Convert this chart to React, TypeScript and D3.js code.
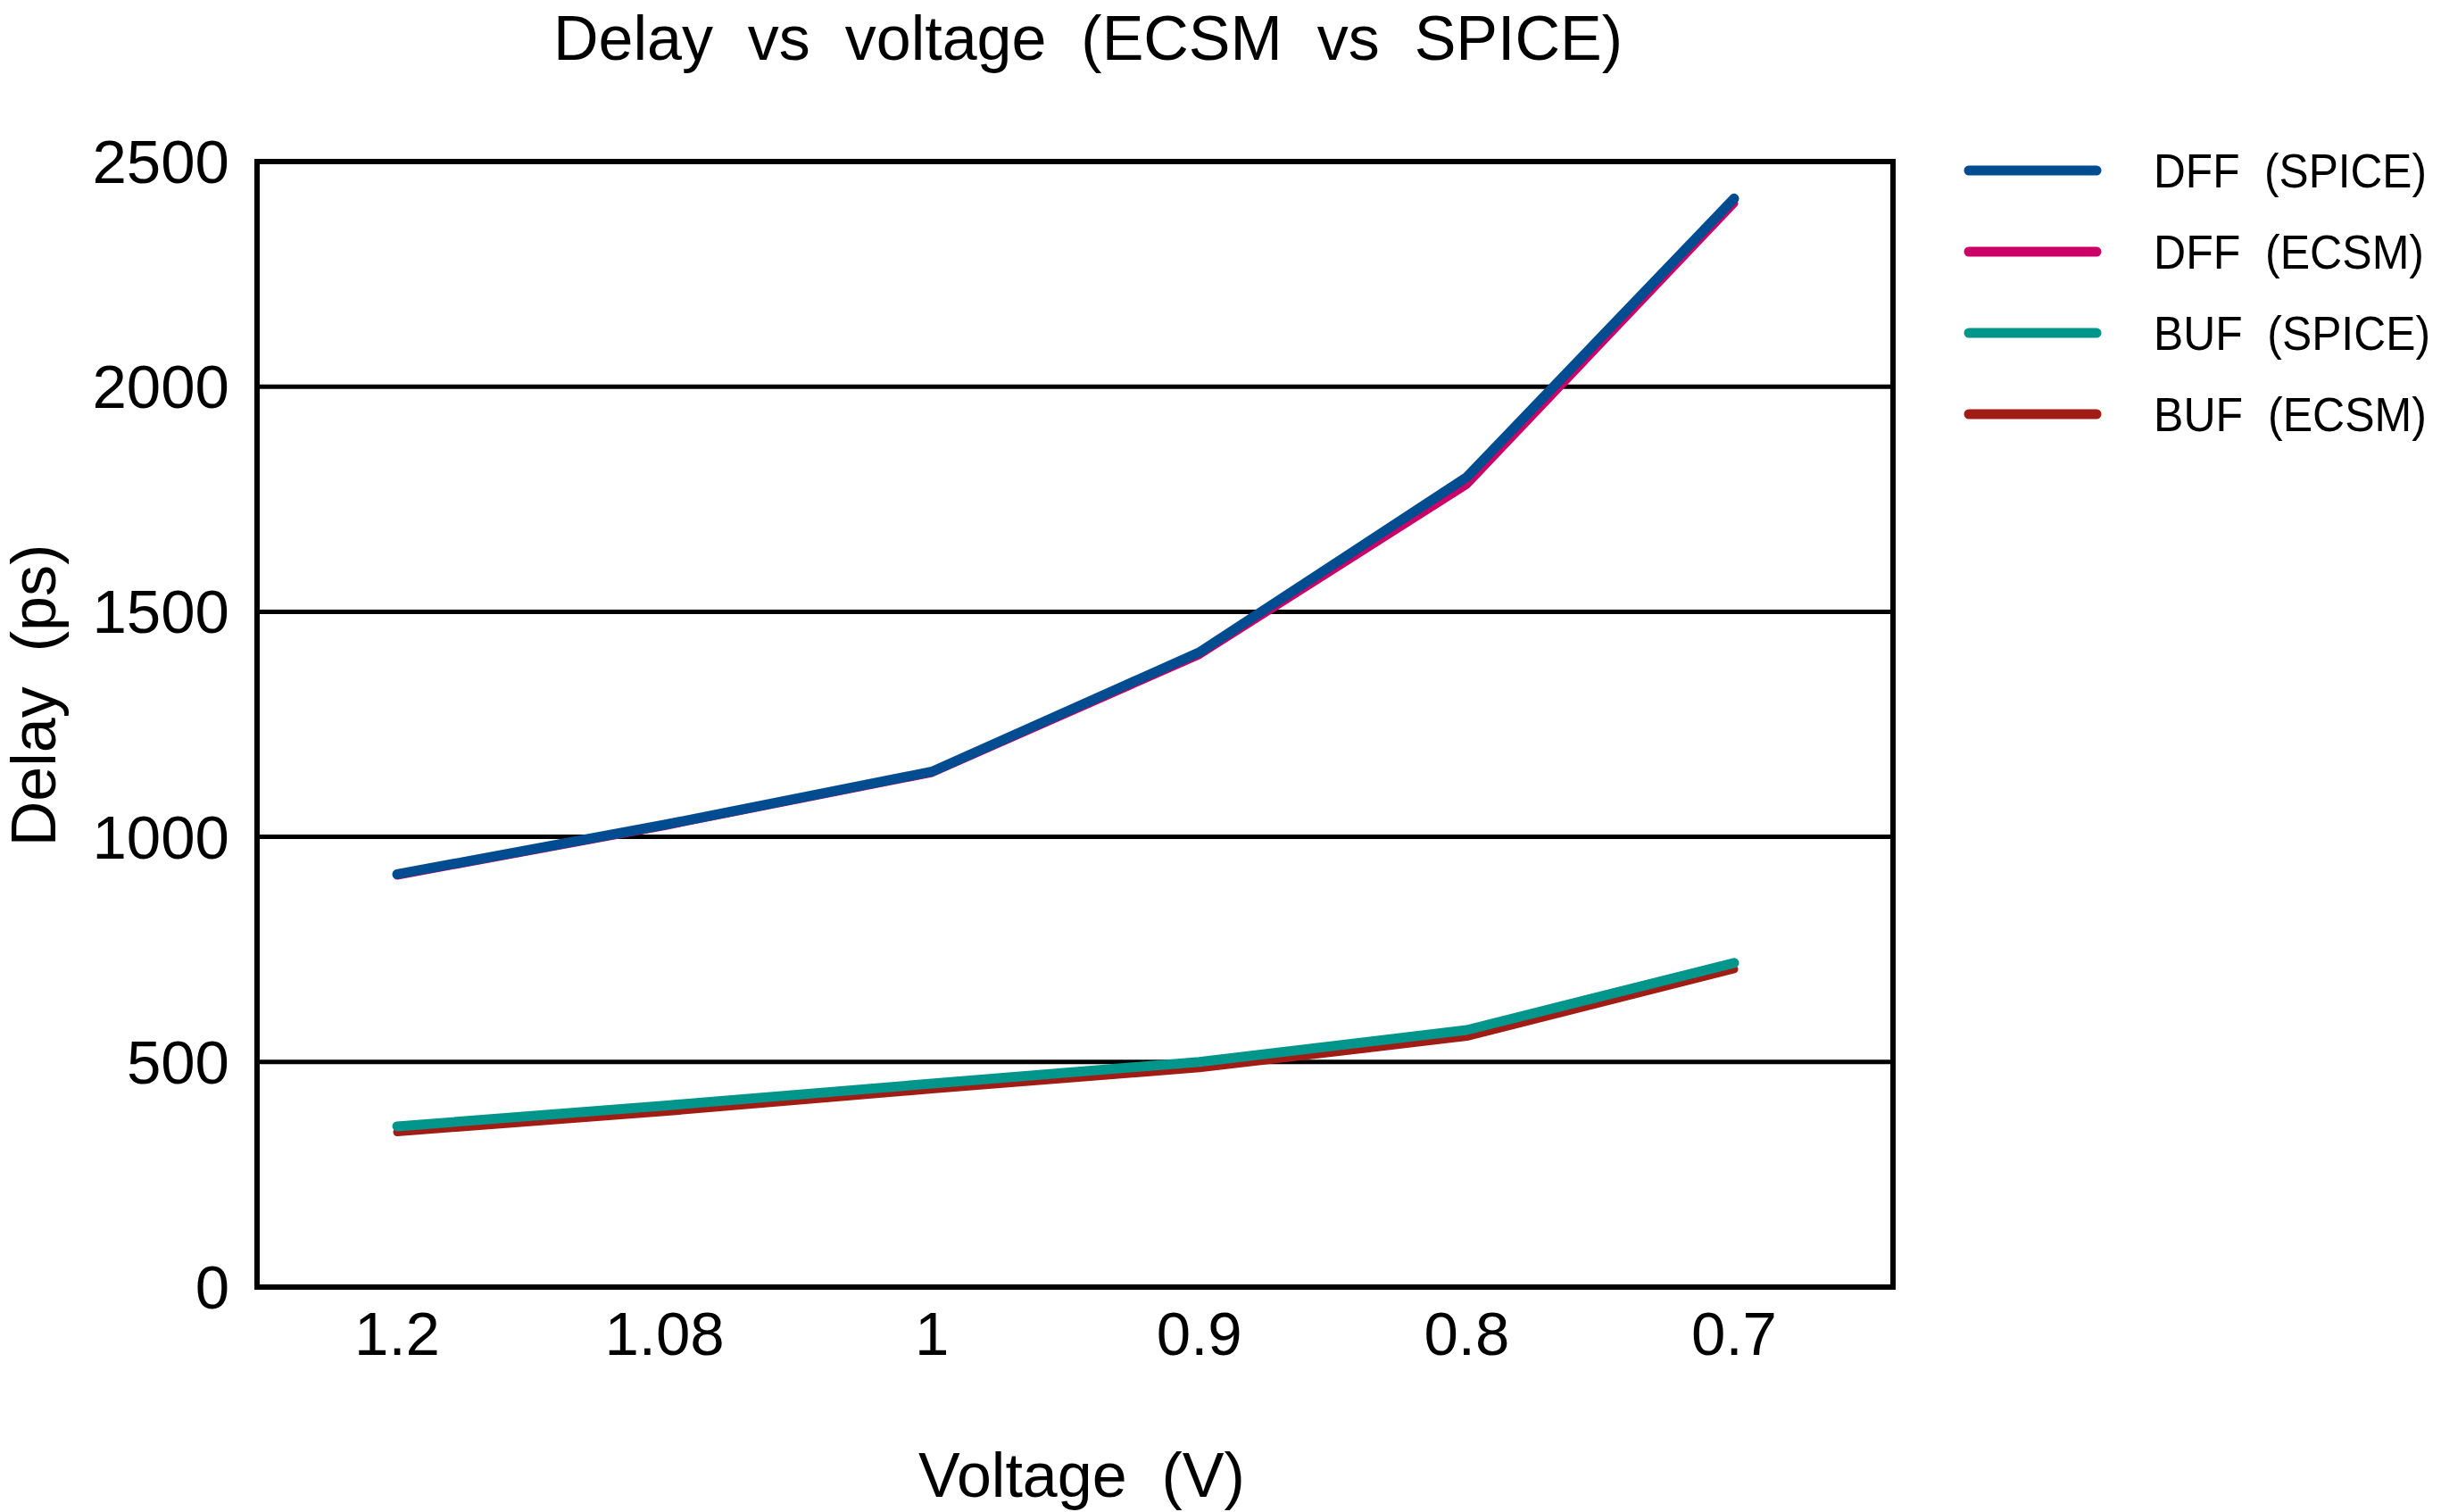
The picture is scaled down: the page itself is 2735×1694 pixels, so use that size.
import React from "react";
import * as d3 from "d3";

const voltages = ["1.2", "1.08", "1", "0.9", "0.8", "0.7"];
const dffSpice = [917, 1027, 1145, 1410, 1799, 2418];
const dffEcsm = [914, 1024, 1142, 1404, 1782, 2407];
const bufSpice = [357, 403, 452, 500, 571, 720];
const bufEcsm = [344, 389, 439, 486, 556, 706];
const yTicks = [0, 500, 1000, 1500, 2000, 2500];

const seriesNames = ["DFF  (SPICE)", "DFF  (ECSM)", "BUF  (SPICE)", "BUF  (ECSM)"];
const seriesColors = ["#004C91", "#CC0066", "#00968C", "#A01C14"];
const legendTextWidths = [306, 303, 310, 306];

const W = 2735;
const H = 1694;
const M = { left: 288, right: 2121, top: 181, bottom: 1442 };
const FONT = "'Liberation Sans', Arial, Helvetica, sans-serif";
const NARROW = "'Liberation Sans Narrow', 'Liberation Sans', Arial, sans-serif";

export default function App() {
  const x = d3
    .scalePoint<string>()
    .domain(voltages)
    .range([M.left + 157, M.right - 178]);
  const y = d3.scaleLinear().domain([0, 2500]).range([M.bottom, M.top]);

  const line = d3
    .line<number>()
    .x((_, i) => x(voltages[i]) as number)
    .y((d) => y(d));

  const drawOrder = [
    { data: dffEcsm, color: seriesColors[1], w: 9 },
    { data: dffSpice, color: seriesColors[0], w: 11 },
    { data: bufEcsm, color: seriesColors[3], w: 9 },
    { data: bufSpice, color: seriesColors[2], w: 11 },
  ];

  const legendY0 = 191;
  const legendStep = 91;

  return (
    <svg
      width={W}
      height={H}
      style={{ position: "absolute", left: 0, top: 0, background: "#fff" }}
      fontFamily={FONT}
    >
      <rect x={0} y={0} width={W} height={H} fill="#fff" />
      <text
        x={1219}
        y={67}
        fontSize={70}
        textAnchor="middle"
        style={{ whiteSpace: "pre" }}
      >
        {"Delay  vs  voltage  (ECSM  vs  SPICE)"}
      </text>

      {yTicks
        .filter((t) => t > 0 && t < 2500)
        .map((t) => (
          <line
            key={"g" + t}
            x1={M.left}
            x2={M.right}
            y1={y(t)}
            y2={y(t)}
            stroke="#000"
            strokeWidth={5}
          />
        ))}

      {yTicks.map((t) => (
        <text key={"yt" + t} x={257} y={y(t) + 24} fontSize={69} textAnchor="end">
          {t}
        </text>
      ))}

      {voltages.map((v) => (
        <text key={"xt" + v} x={x(v)} y={1518} fontSize={69} textAnchor="middle">
          {v}
        </text>
      ))}

      {drawOrder.map((s, i) => (
        <path
          key={"s" + i}
          d={line(s.data) || ""}
          fill="none"
          stroke={s.color}
          strokeWidth={s.w}
          strokeLinecap="round"
          strokeLinejoin="round"
        />
      ))}

      <rect
        x={M.left}
        y={M.top}
        width={M.right - M.left}
        height={M.bottom - M.top}
        fill="none"
        stroke="#000"
        strokeWidth={6}
      />

      <text
        x={1212}
        y={1677}
        fontSize={70}
        textAnchor="middle"
        style={{ whiteSpace: "pre" }}
      >
        {"Voltage  (V)"}
      </text>
      <text
        transform={`translate(62, 779) rotate(-90)`}
        fontSize={70}
        textAnchor="middle"
        style={{ whiteSpace: "pre" }}
      >
        {"Delay  (ps)"}
      </text>

      {seriesNames.map((name, i) => (
        <g key={"lg" + i}>
          <line
            x1={2206}
            x2={2349}
            y1={legendY0 + i * legendStep}
            y2={legendY0 + i * legendStep}
            stroke={seriesColors[i]}
            strokeWidth={11}
            strokeLinecap="round"
          />
          <text
            x={2413}
            y={legendY0 + i * legendStep + 19}
            fontSize={53}
            fontFamily={NARROW}
            textLength={legendTextWidths[i]}
            lengthAdjust="spacingAndGlyphs"
            style={{ whiteSpace: "pre" }}
          >
            {name}
          </text>
        </g>
      ))}
    </svg>
  );
}
